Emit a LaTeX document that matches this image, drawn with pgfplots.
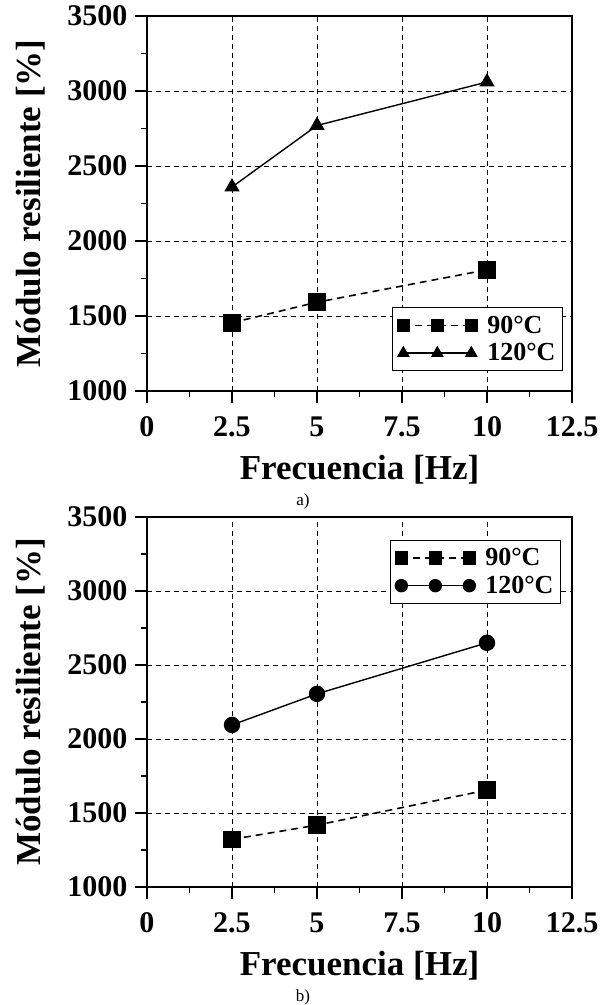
\documentclass[border=0pt]{standalone}
\usepackage{fontspec}
\setmainfont{Liberation Serif}
\usepackage{pgfplots}
\pgfplotsset{compat=1.18}
\pgfplotsset{
  myaxis/.style={
    scale only axis, width=425pt,
    xmin=0, xmax=12.5, ymin=1000, ymax=3500,
    xtick={0,2.5,5,7.5,10,12.5},
    xticklabels={0,2.5,5,7.5,10,12.5},
    ytick={1000,1500,2000,2500,3000,3500},
    yticklabels={1000,1500,2000,2500,3000,3500},
    minor x tick num=1, minor y tick num=1,
    tick align=outside,
    major tick length=12pt, minor tick length=6pt,
    tick style={line width=1.8pt, black},
    xtick pos=bottom, ytick pos=left,
    axis line style={line width=2.2pt},
    grid=major,
    major grid style={black, line width=0.8pt, dash pattern=on 5pt off 4pt},
    ticklabel style={font=\fontsize{30}{32}\selectfont\bfseries},
    xticklabel shift=10pt, yticklabel shift=4pt,
    /pgf/number format/assume math mode=true,
    xlabel={Frecuencia [Hz]},
    ylabel={Módulo resiliente [\%]},
    xlabel shift=12pt, ylabel shift=15pt,
    label style={font=\fontsize{35}{38}\selectfont\bfseries},
    legend style={font=\fontsize{26}{28}\selectfont\bfseries, draw=black, line width=1pt,
      inner xsep=5pt, inner ysep=6pt, row sep=5pt,
      /tikz/every odd column/.append style={column sep=8pt}},
    legend cell align=left,
    legend image code/.code={
      \draw[mark repeat=1,mark phase=1,#1, mark size=6pt] plot coordinates {(0pt,0pt) (34pt,0pt) (68pt,0pt)};
    },
  }
}
\begin{document}
\begin{tikzpicture}
\begin{axis}[myaxis, height=375pt, at={(0pt,496pt)}, anchor=south west,
  legend style={at={(1,0)}, anchor=south east, xshift=-9pt, yshift=20pt}]
\addplot[black, line width=1.6pt, dash pattern=on 7pt off 5pt, mark=square*, mark size=8pt, mark options={solid}]
  coordinates {(2.5,1455) (5,1592) (10,1808)};
\addlegendentry{90°C}
\addplot[black, line width=1.4pt, mark=triangle*, mark size=7.5pt, mark options={solid}]
  coordinates {(2.5,2360) (5,2770) (10,3060)};
\addlegendentry{120°C}
\end{axis}
\begin{axis}[myaxis, height=370pt, at={(0pt,0pt)}, anchor=south west,
  legend style={at={(1,1)}, anchor=north east, xshift=-11pt, yshift=-23pt}]
\addplot[black, line width=1.6pt, dash pattern=on 7pt off 5pt, mark=square*, mark size=8pt, mark options={solid}]
  coordinates {(2.5,1322) (5,1418) (10,1655)};
\addlegendentry{90°C}
\addplot[black, line width=1.4pt, mark=*, mark size=7.5pt, mark options={solid}]
  coordinates {(2.5,2095) (5,2305) (10,2650)};
\addlegendentry{120°C}
\end{axis}
\node at (156pt,386pt) {\fontsize{17}{20}\selectfont a)};
\node at (156pt,-110pt) {\fontsize{17}{20}\selectfont b)};
\pgfresetboundingbox
\path (-147pt,-118pt) rectangle (454pt,887pt);
\end{tikzpicture}
\end{document}
